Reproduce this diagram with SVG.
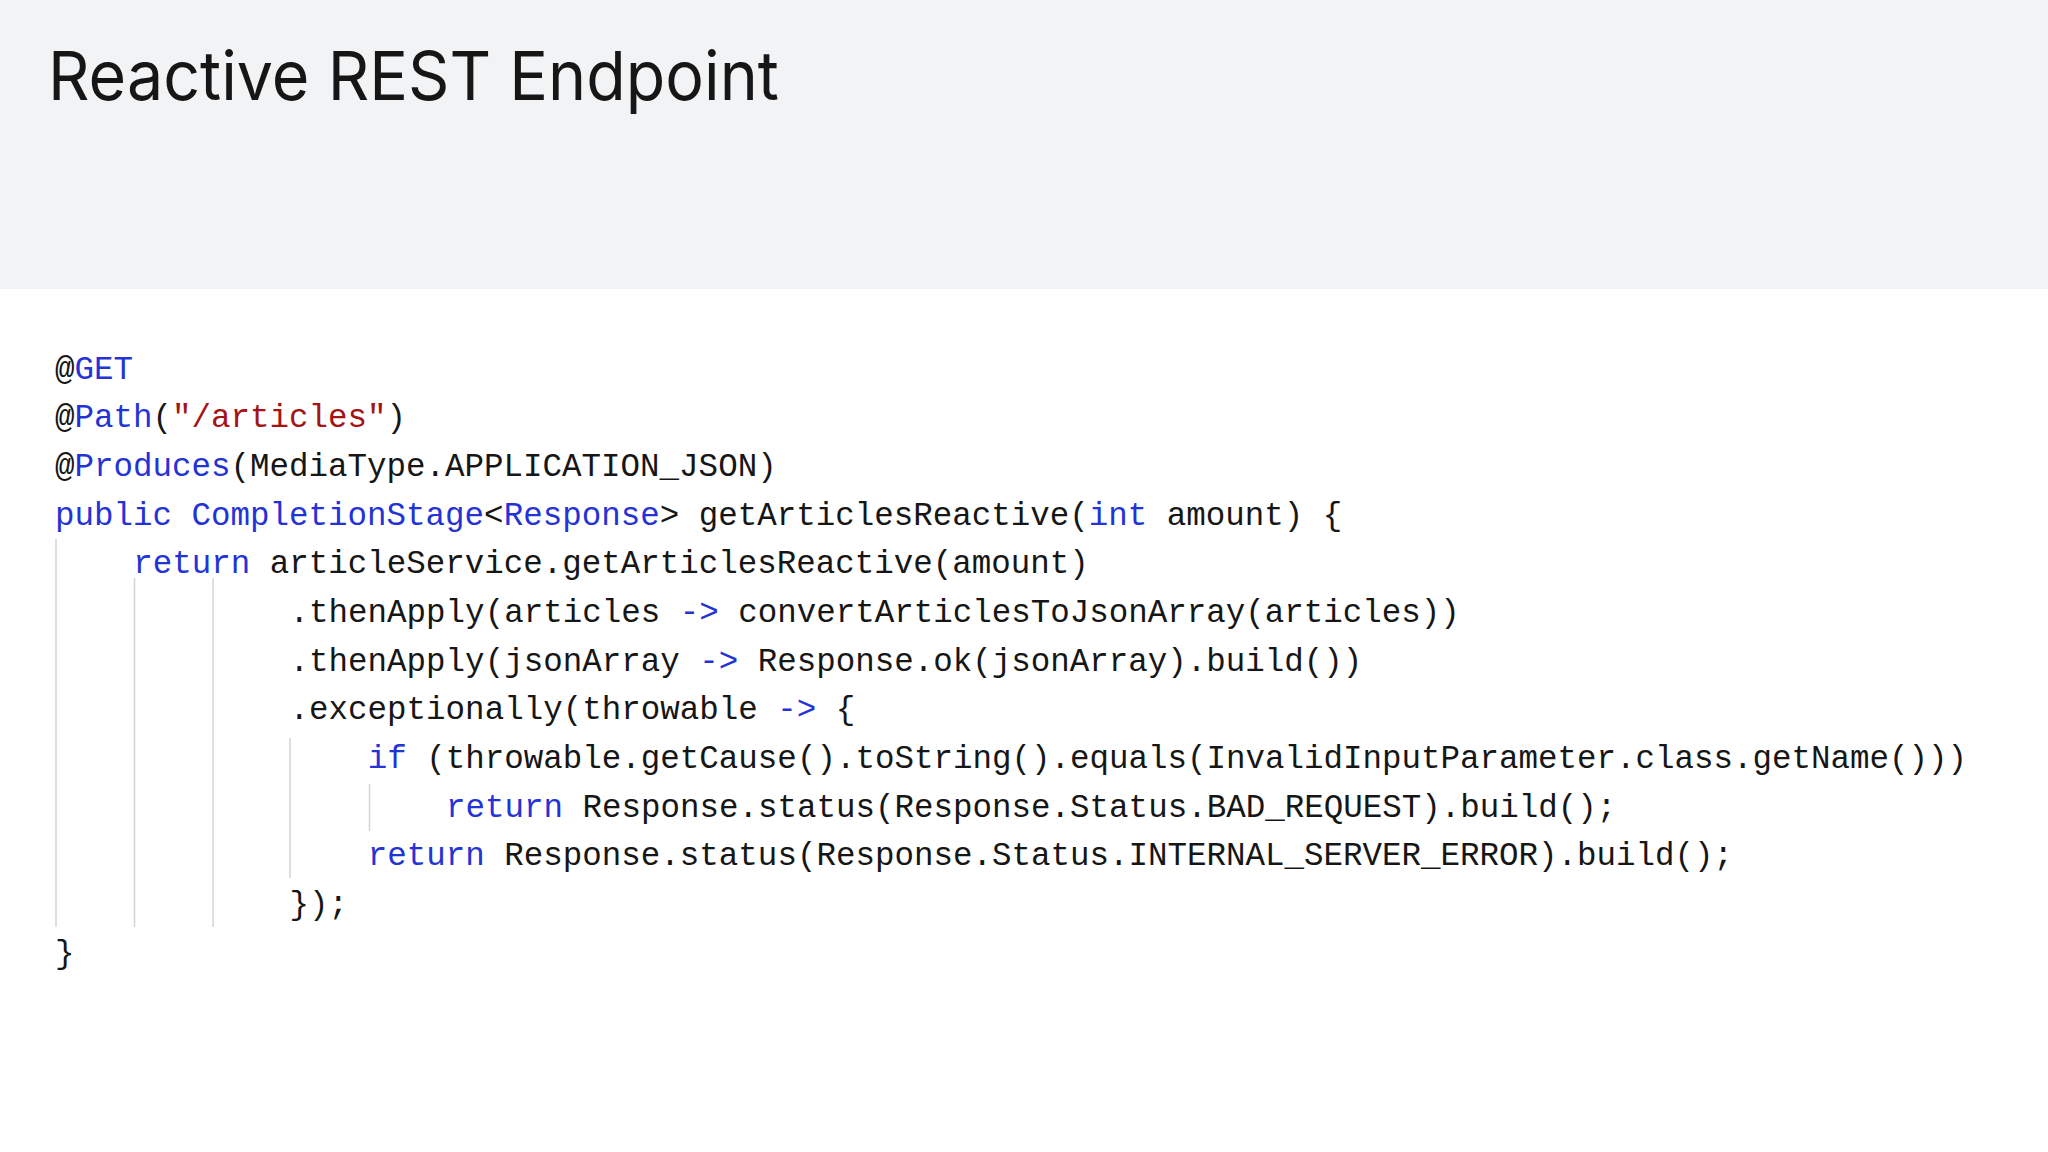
<svg xmlns="http://www.w3.org/2000/svg" width="2048" height="1152" viewBox="0 0 2048 1152">
<style>
.c{font-family:"Liberation Mono","DejaVu Sans Mono",monospace;font-size:32.5px;fill:#161616;white-space:pre}
.k{fill:#2433d6}
.s{fill:#a31515}
.g{stroke:#d4d4d4;stroke-width:1.5}
</style>
<rect width="2048" height="1152" fill="#ffffff"/>
<rect width="2048" height="289" fill="#f2f3f5"/>
<text x="48" y="100" font-family="Inter,'Liberation Sans',sans-serif" font-size="68" fill="#161616" textLength="731" lengthAdjust="spacingAndGlyphs">Reactive REST Endpoint</text>
<g id="guides">
<line class="g" x1="56" y1="539" x2="56" y2="927"/>
<line class="g" x1="134.5" y1="578" x2="134.5" y2="927"/>
<line class="g" x1="213" y1="578" x2="213" y2="927"/>
<line class="g" x1="290" y1="738" x2="290" y2="878"/>
<line class="g" x1="369.5" y1="784" x2="369.5" y2="831"/>
</g>
<g id="code" xml:space="preserve">
<text class="c" x="55" y="378.7">@<tspan class="k">GET</tspan></text>
<text class="c" x="55" y="427.4">@<tspan class="k">Path</tspan>(<tspan class="s">"/articles"</tspan>)</text>
<text class="c" x="55" y="476">@<tspan class="k">Produces</tspan>(MediaType.APPLICATION_JSON)</text>
<text class="c" x="55" y="524.7"><tspan class="k">public</tspan> <tspan class="k">CompletionStage</tspan>&lt;<tspan class="k">Response</tspan>&gt; getArticlesReactive(<tspan class="k">int</tspan> amount) {</text>
<text class="c" x="133.2" y="573.3"><tspan class="k">return</tspan> articleService.getArticlesReactive(amount)</text>
<text class="c" x="289.6" y="622">.thenApply(articles <tspan class="k">-&gt;</tspan> convertArticlesToJsonArray(articles))</text>
<text class="c" x="289.6" y="670.6">.thenApply(jsonArray <tspan class="k">-&gt;</tspan> Response.ok(jsonArray).build())</text>
<text class="c" x="289.6" y="719.3">.exceptionally(throwable <tspan class="k">-&gt;</tspan> {</text>
<text class="c" x="367.8" y="767.9"><tspan class="k">if</tspan> (throwable.getCause().toString().equals(InvalidInputParameter.class.getName()))</text>
<text class="c" x="446" y="816.6"><tspan class="k">return</tspan> Response.status(Response.Status.BAD_REQUEST).build();</text>
<text class="c" x="367.8" y="865.2"><tspan class="k">return</tspan> Response.status(Response.Status.INTERNAL_SERVER_ERROR).build();</text>
<text class="c" x="289.6" y="913.9">});</text>
<text class="c" x="55" y="962.5">}</text>
</g>
</svg>
